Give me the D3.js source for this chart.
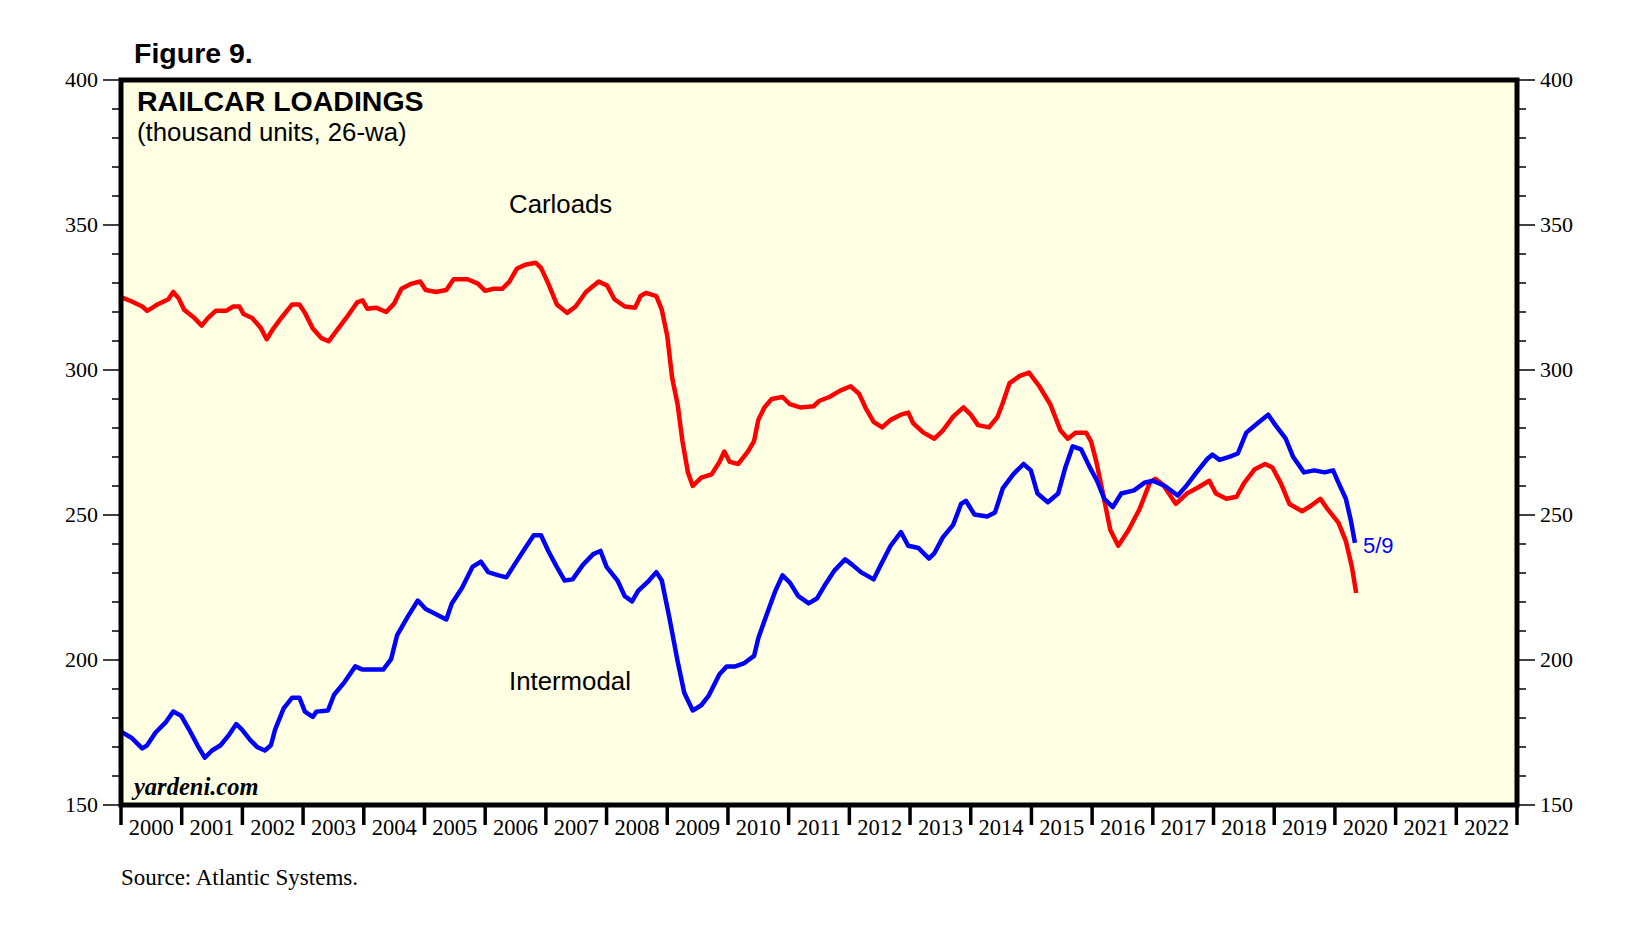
<!DOCTYPE html>
<html>
<head>
<meta charset="utf-8">
<script src="https://cdn.jsdelivr.net/npm/d3@7"></script>
<style>
  body { margin: 0; background: #fff; }
  svg text { font-family: "Liberation Serif", "Times New Roman", serif; }
</style>
</head>
<body>
<svg id="chart" width="1646" height="936"></svg>
<script>
// carloads (red), decimal year + thousand units
var carYears = [2000.0,2000.17,2000.35,2000.43,2000.52,2000.6,2000.78,2000.86,2000.95,2001.04,2001.21,2001.33,2001.43,2001.56,2001.73,2001.85,2001.95,2002.02,2002.16,2002.3,2002.4,2002.51,2002.65,2002.82,2002.94,2003.03,2003.16,2003.3,2003.42,2003.54,2003.72,2003.89,2003.98,2004.06,2004.2,2004.37,2004.5,2004.62,2004.79,2004.93,2005.02,2005.19,2005.36,2005.48,2005.71,2005.88,2006.0,2006.14,2006.28,2006.4,2006.52,2006.66,2006.83,2006.92,2007.04,2007.18,2007.35,2007.49,2007.66,2007.87,2008.01,2008.13,2008.3,2008.47,2008.56,2008.65,2008.82,2008.91,2009.0,2009.08,2009.17,2009.25,2009.34,2009.42,2009.56,2009.73,2009.86,2009.94,2010.03,2010.17,2010.33,2010.43,2010.5,2010.6,2010.72,2010.9,2011.02,2011.19,2011.41,2011.5,2011.67,2011.85,2012.02,2012.16,2012.28,2012.4,2012.54,2012.68,2012.85,2012.97,2013.05,2013.22,2013.4,2013.54,2013.71,2013.88,2014.0,2014.12,2014.3,2014.44,2014.52,2014.64,2014.81,2014.96,2015.13,2015.31,2015.48,2015.6,2015.73,2015.9,2015.98,2016.07,2016.16,2016.3,2016.43,2016.6,2016.78,2016.95,2017.04,2017.17,2017.38,2017.56,2017.73,2017.93,2018.04,2018.21,2018.38,2018.5,2018.68,2018.85,2018.97,2019.11,2019.25,2019.46,2019.6,2019.76,2019.88,2020.06,2020.18,2020.28,2020.35];
var carValues = [325.1,323.7,321.9,320.4,321.5,322.6,324.4,326.9,324.7,320.8,317.9,315.3,317.9,320.4,320.4,321.9,321.9,319.3,317.9,314.6,310.6,314.3,318.2,322.6,322.6,319.7,314.3,311.0,309.9,313.2,318.2,323.3,324.0,321.1,321.5,320.0,322.9,328.0,329.8,330.5,327.6,326.9,327.6,331.3,331.3,329.8,327.3,328.0,328.0,330.5,334.9,336.3,337.0,335.2,329.8,322.6,319.7,321.9,326.9,330.5,329.1,324.4,321.9,321.5,325.5,326.6,325.5,320.8,311.7,297.3,288.2,275.5,264.7,260.0,262.9,264.0,268.3,271.9,268.3,267.6,271.9,275.5,282.8,287.1,290.0,290.7,288.2,287.1,287.5,289.3,290.7,292.9,294.4,291.8,286.4,282.1,280.2,282.8,284.6,285.3,281.7,278.4,276.3,279.1,283.9,287.1,284.6,281.0,280.2,283.8,288.2,295.5,298.0,299.1,294.4,288.2,279.1,276.3,278.4,278.4,275.5,268.3,259.3,244.8,239.4,244.8,252.0,261.1,262.5,260.4,253.8,257.4,259.3,261.8,257.4,255.6,256.3,260.9,265.8,267.6,266.4,260.9,253.8,251.3,253.1,255.6,252.0,247.3,241.0,232.1,223.1];

// intermodal (blue)
var interYears = [2000.0,2000.17,2000.35,2000.43,2000.57,2000.74,2000.86,2000.99,2001.12,2001.26,2001.38,2001.5,2001.64,2001.78,2001.9,2001.99,2002.13,2002.25,2002.37,2002.47,2002.54,2002.68,2002.82,2002.94,2003.03,2003.16,2003.22,2003.41,2003.51,2003.68,2003.86,2003.98,2004.15,2004.32,2004.45,2004.55,2004.72,2004.89,2005.02,2005.19,2005.36,2005.45,2005.62,2005.79,2005.93,2006.05,2006.22,2006.35,2006.48,2006.66,2006.8,2006.92,2007.04,2007.18,2007.31,2007.44,2007.61,2007.78,2007.9,2008.0,2008.18,2008.3,2008.42,2008.52,2008.7,2008.82,2008.91,2009.04,2009.17,2009.28,2009.42,2009.56,2009.68,2009.86,2009.98,2010.12,2010.26,2010.43,2010.5,2010.64,2010.78,2010.9,2011.02,2011.16,2011.33,2011.47,2011.59,2011.76,2011.93,2012.05,2012.19,2012.4,2012.5,2012.68,2012.85,2012.97,2013.14,2013.31,2013.4,2013.54,2013.71,2013.84,2013.92,2014.06,2014.27,2014.4,2014.53,2014.7,2014.87,2014.99,2015.1,2015.27,2015.44,2015.56,2015.68,2015.82,2015.96,2016.08,2016.2,2016.34,2016.48,2016.69,2016.86,2017.0,2017.2,2017.41,2017.55,2017.72,2017.9,2017.98,2018.1,2018.27,2018.4,2018.54,2018.75,2018.9,2019.02,2019.19,2019.31,2019.49,2019.66,2019.83,2019.97,2020.06,2020.18,2020.26,2020.33];
var interValues = [175.3,173.2,169.5,170.6,175.0,178.6,182.2,180.8,176.1,170.6,166.3,168.8,170.6,174.2,177.9,176.1,172.4,169.9,168.8,170.6,176.1,183.3,187.0,187.0,182.2,180.4,182.2,182.6,188.0,192.3,197.8,196.7,196.7,196.7,200.3,208.6,214.8,220.5,217.6,215.8,214.0,219.5,224.9,232.1,233.9,230.3,229.2,228.5,232.8,238.6,243.0,243.0,237.6,232.1,227.4,227.8,232.8,236.5,237.6,232.1,227.4,222.0,220.2,223.8,227.4,230.3,227.4,214.0,199.6,188.7,182.6,184.4,187.6,195.1,197.8,197.8,198.8,201.4,207.5,215.8,223.8,229.2,226.7,222.0,219.5,221.3,225.6,231.0,234.7,232.8,230.3,227.8,232.1,239.4,244.1,239.4,238.6,235.0,236.8,242.3,246.6,253.8,254.9,250.2,249.5,250.9,259.3,264.0,267.6,265.4,257.4,254.4,257.4,266.5,273.7,272.6,266.5,261.8,255.6,252.7,257.4,258.5,261.1,261.8,260.0,256.7,260.0,264.7,269.4,270.8,269.0,270.1,271.2,278.4,282.1,284.6,281.0,276.3,270.1,264.7,265.4,264.7,265.4,261.1,255.6,248.4,240.4];

var yTicks = [150, 200, 250, 300, 350, 400];
var yearLabels = d3.range(2000, 2023);

var svg = d3.select("#chart");
var plotLeft = 121, plotRight = 1517, plotTop = 80, plotBottom = 805;

var x = d3.scaleLinear().domain([2000, 2023]).range([plotLeft, plotRight]);
var y = d3.scaleLinear().domain([150, 400]).range([plotBottom, plotTop]);

svg.append("rect")
    .attr("x", plotLeft).attr("y", plotTop)
    .attr("width", plotRight - plotLeft).attr("height", plotBottom - plotTop)
    .style("fill", "#ffffe4");

// y axes, major ticks every 50, minor every 10
var minor = d3.range(150, 401, 10);
var yLeft = svg.append("g").attr("transform", "translate(" + plotLeft + ",0)");
yLeft.selectAll("line").data(minor).enter().append("line")
    .attr("x1", function (d) { return d % 50 == 0 ? -18 : -9; })
    .attr("x2", 0)
    .attr("y1", function (d) { return y(d); })
    .attr("y2", function (d) { return y(d); })
    .style("stroke", "#000").style("stroke-width", 1.5);
yLeft.selectAll("text").data(yTicks).enter().append("text")
    .attr("x", -23).attr("y", function (d) { return y(d) + 7; })
    .attr("text-anchor", "end")
    .style("font-size", "22px")
    .text(function (d) { return d; });

var yRight = svg.append("g").attr("transform", "translate(" + plotRight + ",0)");
yRight.selectAll("line").data(minor).enter().append("line")
    .attr("x1", 0)
    .attr("x2", function (d) { return d % 50 == 0 ? 18 : 9; })
    .attr("y1", function (d) { return y(d); })
    .attr("y2", function (d) { return y(d); })
    .style("stroke", "#000").style("stroke-width", 1.5);
yRight.selectAll("text").data(yTicks).enter().append("text")
    .attr("x", 23).attr("y", function (d) { return y(d) + 7; })
    .style("font-size", "22px")
    .text(function (d) { return d; });

// x axis: year boundary ticks below the frame, labels centred in each year
var xAxis = svg.append("g");
xAxis.selectAll("line").data(d3.range(2000, 2024)).enter().append("line")
    .attr("x1", function (d) { return x(d); })
    .attr("x2", function (d) { return x(d); })
    .attr("y1", plotBottom).attr("y2", plotBottom + 20)
    .style("stroke", "#000").style("stroke-width", 3.5);
xAxis.selectAll("text").data(yearLabels).enter().append("text")
    .attr("x", function (d) { return x(d + 0.5); })
    .attr("y", plotBottom + 30)
    .attr("text-anchor", "middle")
    .style("font-size", "22.5px")
    .text(function (d) { return d; });

var line = d3.line()
    .x(function (d) { return x(d[0]); })
    .y(function (d) { return y(d[1]); });

svg.append("path")
    .datum(d3.zip(carYears, carValues))
    .attr("d", line)
    .style("fill", "none").style("stroke", "#ff0000")
    .style("stroke-width", 4.5).style("stroke-linejoin", "round");

svg.append("path")
    .datum(d3.zip(interYears, interValues))
    .attr("d", line)
    .style("fill", "none").style("stroke", "#0000ff")
    .style("stroke-width", 4.5).style("stroke-linejoin", "round");

// frame
svg.append("rect")
    .attr("x", plotLeft).attr("y", plotTop)
    .attr("width", plotRight - plotLeft).attr("height", plotBottom - plotTop)
    .style("fill", "none").style("stroke", "#000").style("stroke-width", 5);

// texts
var sans = "'Liberation Sans', Arial, sans-serif";
svg.append("text").attr("x", 134).attr("y", 63)
    .style("font-family", sans).style("font-weight", "bold").style("font-size", "28.5px")
    .text("Figure 9.");
svg.append("text").attr("x", 137).attr("y", 111)
    .style("font-family", sans).style("font-weight", "bold").style("font-size", "28.5px")
    .text("RAILCAR LOADINGS");
svg.append("text").attr("x", 137).attr("y", 141)
    .style("font-family", sans).style("font-size", "25.8px")
    .text("(thousand units, 26-wa)");
svg.append("text").attr("x", 509).attr("y", 213)
    .style("font-family", sans).style("font-size", "25.8px")
    .text("Carloads");
svg.append("text").attr("x", 509).attr("y", 690)
    .style("font-family", sans).style("font-size", "25.8px")
    .text("Intermodal");
svg.append("text").attr("x", x(interYears[interYears.length - 1]) + 8).attr("y", 553)
    .style("font-family", sans).style("font-size", "22px").style("fill", "#0000ff")
    .text("5/9");
svg.append("text").attr("x", 134).attr("y", 795)
    .style("font-weight", "bold").style("font-style", "italic").style("font-size", "24.5px")
    .text("yardeni.com");
svg.append("text").attr("x", 121).attr("y", 885)
    .style("font-size", "23px")
    .text("Source: Atlantic Systems.");
</script>
</body>
</html>
